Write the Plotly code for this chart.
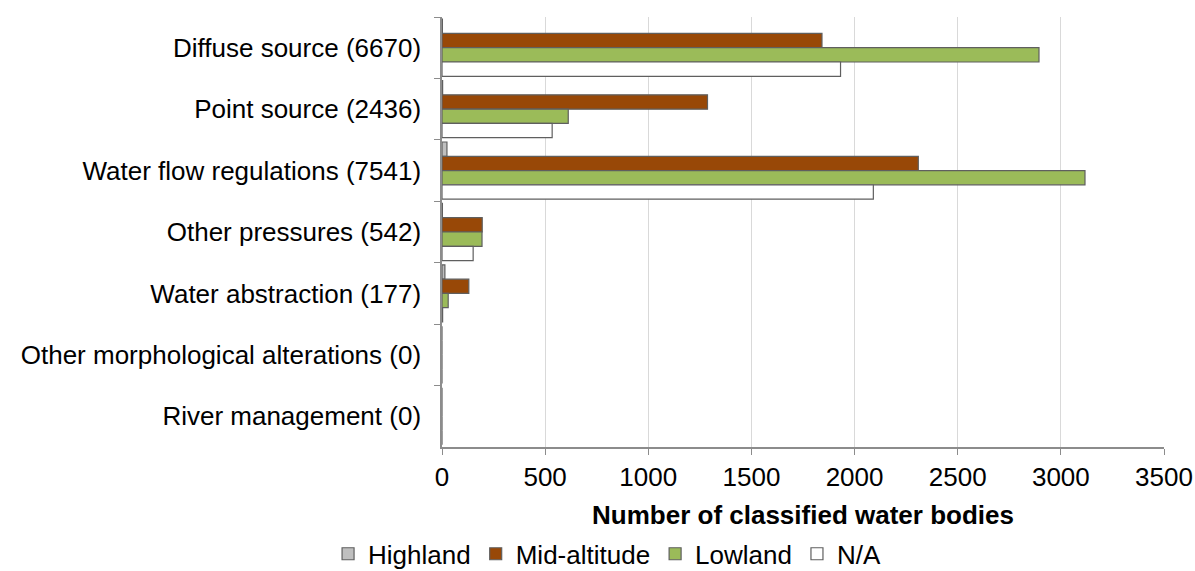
import plotly.graph_objects as go

categories = [
    "Diffuse source (6670)",
    "Point source (2436)",
    "Water flow regulations (7541)",
    "Other pressures (542)",
    "Water abstraction (177)",
    "Other morphological alterations (0)",
    "River management (0)",
]
highland = [2, 3, 24, 2, 14, 0, 0]
mid_altitude = [1842, 1287, 2309, 195, 130, 0, 0]
lowland = [2894, 612, 3117, 194, 30, 0, 0]
na_values = [1932, 534, 2091, 151, 3, 0, 0]

series = [
    ("Highland", highland, "#BFBFBF"),
    ("Mid-altitude", mid_altitude, "#984807"),
    ("Lowland", lowland, "#9BBB59"),
    ("N/A", na_values, "#FFFFFF"),
]

fig = go.Figure()
for name, vals, color in series:
    fig.add_trace(go.Bar(
        y=categories, x=vals, name=name, orientation="h",
        marker=dict(color=color, line=dict(color="#5F5F5F", width=1.2)),
    ))

font_family = "Liberation Sans, Arial, sans-serif"
fig.update_layout(
    width=1195, height=571,
    margin=dict(l=442, r=31, t=17, b=124),
    paper_bgcolor="white", plot_bgcolor="white",
    barmode="group", bargap=0.07, bargroupgap=0,
    font=dict(family=font_family, size=26, color="#000000"),
    showlegend=True,
    legend=dict(orientation="h", xref="container", x=0.508, xanchor="center",
                yref="container", y=0.03, yanchor="middle",
                font=dict(size=26), traceorder="normal", itemwidth=30),
    xaxis=dict(
        range=[0, 3500], dtick=500, tick0=0, automargin=False,
        showgrid=True, gridcolor="#D9D9D9", gridwidth=1,
        showline=True, linecolor="#8C8C8C", linewidth=1.5,
        ticks="outside", ticklen=6, tickcolor="#8C8C8C",
        tickfont=dict(size=26), zeroline=False, ticklabelstandoff=0,
        title=dict(text="<b>Number of classified water bodies</b>",
                   font=dict(size=26), standoff=26),
    ),
    yaxis=dict(
        autorange="reversed", type="category", automargin=False,
        showline=True, linecolor="#8C8C8C", linewidth=1.5,
        ticks="outside", ticklen=6, tickcolor="#8C8C8C",
        tickson="boundaries", tickfont=dict(size=26),
        ticklabelstandoff=14, showgrid=False,
    ),
)

fig.write_html("out.html", config={"displayModeBar": False},
               post_script="document.body.style.margin='0';")
